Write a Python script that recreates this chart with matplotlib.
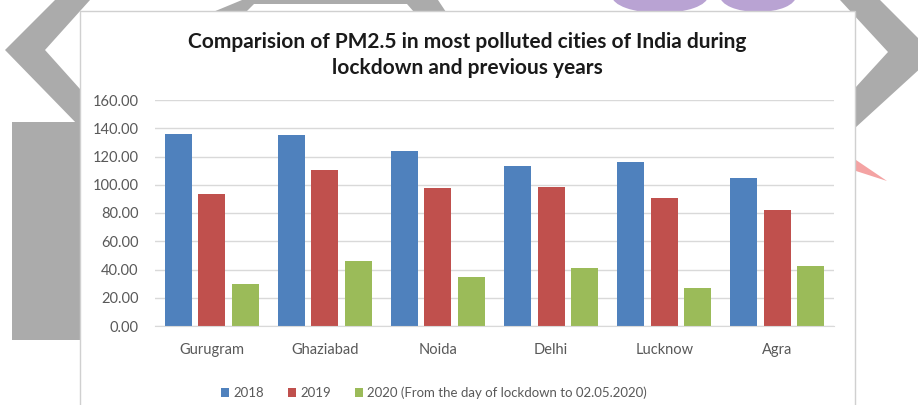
import matplotlib
matplotlib.use("Agg")
import matplotlib.pyplot as plt
import numpy as np
from matplotlib.patches import Polygon, Rectangle, Ellipse

plt.rcParams['font.family'] = ['Lato', 'DejaVu Sans']

# PM2.5 levels per city
cities = ['Gurugram', 'Ghaziabad', 'Noida', 'Delhi', 'Lucknow', 'Agra']
pm_2018 = [135.9, 135.2, 123.9, 113.3, 115.9, 104.8]
pm_2019 = [93.5, 110.4, 97.7, 98.2, 90.4, 82.1]
pm_2020 = [29.7, 46.0, 34.5, 41.0, 26.7, 42.2]
series_labels = ['2018', '2019', '2020 (From the day of lockdown to 02.05.2020)']
yticks = [0, 20, 40, 60, 80, 100, 120, 140, 160]

colors = ['#4F81BD', '#C0504D', '#9BBB59']
text_grey = '#595959'

W, H = 918, 405
fig = plt.figure(figsize=(W / 100, H / 100), dpi=100)
fig.patch.set_facecolor('white')

# page background behind the chart (pixel coordinates)
bg = fig.add_axes([0, 0, 1, 1], zorder=0)
bg.set_xlim(0, W)
bg.set_ylim(H, 0)
bg.axis('off')
grey = '#ababab'
bg.add_patch(Polygon([(55, 0), (90, 0), (45, 50), (80, 89), (80, 127), (5, 50)],
                     closed=True, color=grey, lw=0))
bg.add_patch(Rectangle((12, 122), 68, 218, color=grey, lw=0))
bg.add_patch(Polygon([(213, 12), (242, 0), (438, 0), (446, 12), (414, 12),
                      (407, 4), (254, 4), (246, 12)], closed=True, color=grey, lw=0))
bg.add_patch(Polygon([(840, 0), (880, 0), (935, 55), (855, 128), (855, 88), (888, 52)],
                     closed=True, color=grey, lw=0))
bg.add_patch(Ellipse((660, -4), 96, 34, color='#b9a3d3', lw=0))
bg.add_patch(Ellipse((758, -4), 76, 32, color='#b9a3d3', lw=0))
bg.add_patch(Polygon([(856, 160), (887, 181), (856, 171)], closed=True,
                     color='#f4a3a3', lw=0))
# chart area
bg.add_patch(Rectangle((80, 11), 775, 400, facecolor='white', edgecolor='#d0d0d0', lw=1))

ax = fig.add_axes([155 / W, 1 - 326 / H, (834 - 155) / W, 226 / H], zorder=1)
ax.patch.set_alpha(0)

x = np.arange(len(cities))
w = 0.24
step = 0.296
bars = []
for i, vals in enumerate([pm_2018, pm_2019, pm_2020]):
    b = ax.bar(x + (i - 1) * step, vals, width=w, color=colors[i], zorder=2,
               label=series_labels[i])
    bars.append(b)

ax.set_xlim(-0.5, len(cities) - 0.5)
ax.set_ylim(0, 160)
ax.set_yticks(yticks)
ax.set_yticklabels([f'{v:.2f}' for v in yticks])
ax.set_xticks(x)
ax.set_xticklabels(cities)
ax.tick_params(axis='both', length=0, colors=text_grey, labelsize=10.5)
ax.tick_params(axis='y', pad=12)
ax.tick_params(axis='x', pad=12)
ax.grid(axis='y', color='#d9d9d9', lw=1, zorder=0)
for s in ['top', 'right', 'left']:
    ax.spines[s].set_visible(False)
ax.spines['bottom'].set_color('#d9d9d9')

fig.text(467 / W, 1 - 55 / H,
         'Comparision of PM2.5 in most polluted cities of India during\nlockdown and previous years',
         ha='center', va='center', fontsize=15, fontweight='bold', color='#1a1a1a',
         linespacing=1.4)

fig.legend(handles=bars, labels=series_labels, loc='center',
           bbox_to_anchor=(434 / W, 1 - 393 / H), ncol=3, frameon=False,
           fontsize=9.5, labelcolor=text_grey, handlelength=0.6, handleheight=0.6,
           handletextpad=0.35, columnspacing=1.8)

fig.savefig('out.png', dpi=100, facecolor='white')
